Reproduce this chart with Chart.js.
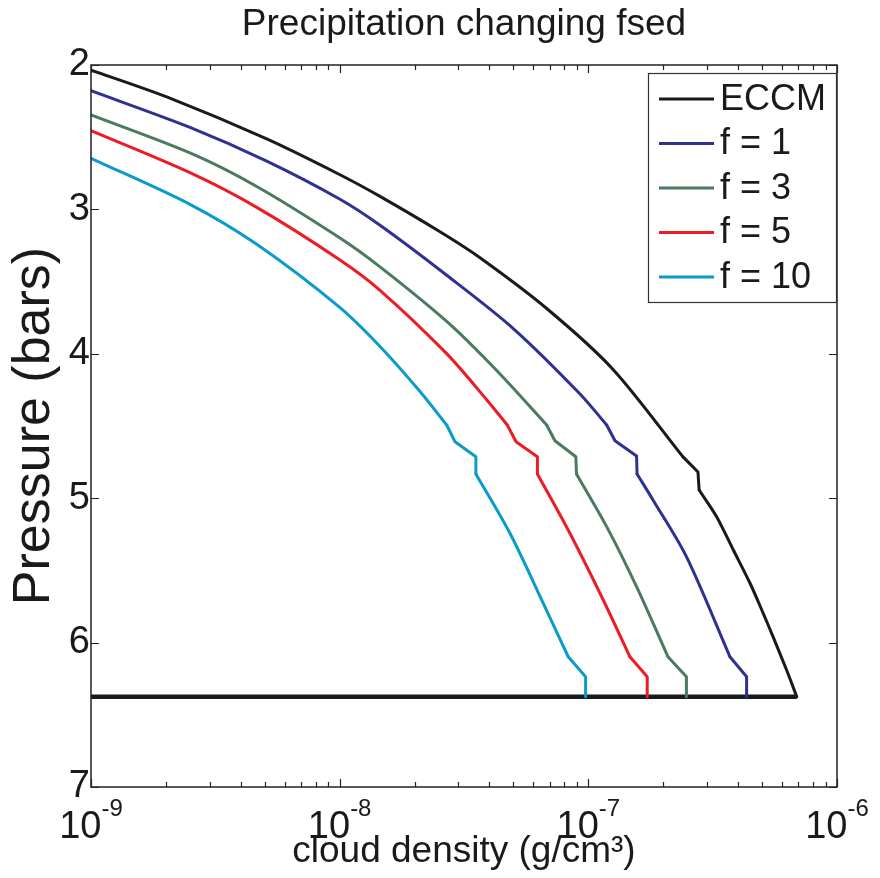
<!DOCTYPE html>
<html>
<head>
<meta charset="utf-8">
<script src="https://cdn.jsdelivr.net/npm/chart.js@4.4.1/dist/chart.umd.min.js"></script>
<style>
  html, body { margin: 0; padding: 0; background: #fff; }
  #wrap { width: 880px; height: 878px; }
</style>
</head>
<body>
<div id="wrap"><canvas id="cloudChart" width="880" height="878"></canvas></div>
<script>
// values: density in g/cm^3, pressure in bars
const eccmDensity = [1.0e-9, 2.016e-9, 5.09e-9, 1.003e-8, 1.453e-8, 2.532e-8, 3.667e-8, 6.82e-8, 1.257e-7, 2.403e-7, 2.76e-7, 2.79e-7, 3.28e-7, 3.83e-7, 4.47e-7, 5.05e-7, 5.53e-7, 6.27e-7, 6.89e-7];
const eccmPressure = [2.035, 2.221, 2.512, 2.76, 2.91, 3.155, 3.335, 3.688, 4.108, 4.714, 4.819, 4.943, 5.128, 5.359, 5.589, 5.797, 5.959, 6.19, 6.375];

const f1Density = [1.0e-9, 2.501e-9, 5.09e-9, 1.003e-8, 1.453e-8, 2.694e-8, 4.99e-8, 9.26e-8, 1.185e-7, 1.28e-7, 1.563e-7, 1.57e-7, 1.82e-7, 2.48e-7, 3.71e-7, 4.33e-7, 4.33e-7];
const f1Pressure = [2.178, 2.432, 2.666, 2.93, 3.11, 3.456, 3.825, 4.278, 4.493, 4.602, 4.708, 4.832, 5.012, 5.405, 6.098, 6.236, 6.375];

const f3Density = [1.0e-9, 2.5e-9, 4.64e-9, 1.003e-8, 1.453e-8, 2.694e-8, 4.28e-8, 6.8e-8, 7.34e-8, 8.91e-8, 8.96e-8, 1.185e-7, 1.563e-7, 2.09e-7, 2.48e-7, 2.48e-7];
const f3Pressure = [2.346, 2.609, 2.841, 3.198, 3.398, 3.776, 4.116, 4.493, 4.602, 4.713, 4.832, 5.197, 5.613, 6.098, 6.236, 6.375];

const f5Density = [1.0e-9, 2.5e-9, 4.64e-9, 1.003e-8, 1.453e-8, 2.694e-8, 3.9e-8, 4.72e-8, 5.12e-8, 6.24e-8, 6.24e-8, 8.43e-8, 1.148e-7, 1.469e-7, 1.725e-7, 1.725e-7];
const f5Pressure = [2.455, 2.746, 2.986, 3.35, 3.56, 3.999, 4.318, 4.493, 4.609, 4.713, 4.832, 5.243, 5.705, 6.098, 6.236, 6.375];

const f10Density = [1.0e-9, 2.5e-9, 4.64e-9, 1.003e-8, 1.453e-8, 2.1e-8, 2.694e-8, 2.91e-8, 3.53e-8, 3.53e-8, 4.84e-8, 6.59e-8, 8.3e-8, 9.75e-8, 9.75e-8];
const f10Pressure = [2.646, 2.965, 3.242, 3.68, 3.949, 4.259, 4.493, 4.609, 4.713, 4.832, 5.243, 5.728, 6.098, 6.236, 6.375];

// cloud base, drawn as a heavy horizontal line
const cloudBaseDensity = [1.0e-9, 6.89e-7];
const cloudBasePressure = [6.375, 6.375];

const seriesLabels = ["ECCM", "f = 1", "f = 3", "f = 5", "f = 10"];
const seriesColors = ["#1a1a1a", "#2e3192", "#4a7a5f", "#ed1c24", "#0a9bcb"];
// pressures bounding the smooth stretches of each curve (the kinks are straight)
const smoothUpperEnd = [4.714, 4.493, 4.493, 4.493, 4.493];
const smoothLowerStart = [4.943, 4.832, 4.832, 4.832, 4.832];
const smoothLowerEnd = [6.375, 6.098, 6.098, 6.098, 6.098];
const yTickValues = [2, 3, 4, 5, 6, 7];
const xTickExponents = [-9, -8, -7, -6];

const FONT = "'Liberation Sans', Arial, Helvetica, sans-serif";

function toPoints(xs, ys) {
  return xs.map((x, i) => ({ x: x, y: ys[i] }));
}

function piece(pts, pLo, pHi, smooth, color) {
  return {
    data: pts.filter((p) => p.y >= pLo - 1e-9 && p.y <= pHi + 1e-9),
    borderColor: color,
    borderWidth: 3,
    borderCapStyle: "round",
    borderJoinStyle: "round",
    pointRadius: 0,
    fill: false,
    indexAxis: "y",
    tension: smooth ? 0.3 : 0,
  };
}

const densities = [eccmDensity, f1Density, f3Density, f5Density, f10Density];
const pressures = [eccmPressure, f1Pressure, f3Pressure, f5Pressure, f10Pressure];

const datasets = [];
seriesLabels.forEach((lab, i) => {
  const ys = pressures[i];
  const pts = toPoints(densities[i], ys);
  const last = ys[ys.length - 1];
  datasets.push(piece(pts, ys[0], smoothUpperEnd[i], true, seriesColors[i]));
  datasets.push(piece(pts, smoothUpperEnd[i], smoothLowerStart[i], false, seriesColors[i]));
  datasets.push(piece(pts, smoothLowerStart[i], smoothLowerEnd[i], true, seriesColors[i]));
  if (smoothLowerEnd[i] < last) {
    datasets.push(piece(pts, smoothLowerEnd[i], last, false, seriesColors[i]));
  }
});

datasets.push({
  data: toPoints(cloudBaseDensity, cloudBasePressure),
  borderColor: "#1a1a1a",
  borderWidth: 4.5,
  pointRadius: 0,
  fill: false,
  indexAxis: "x",
});

// box, inward ticks, x tick labels with exponents, legend
const frameAndLegend = {
  id: "frameAndLegend",
  afterDatasetsDraw(chart) {
    const { ctx, chartArea: a, scales } = chart;
    const xs = scales.x;
    const ys = scales.y;
    ctx.save();

    ctx.strokeStyle = "#222";
    ctx.lineWidth = 1.5;
    ctx.strokeRect(a.left, a.top, a.right - a.left, a.bottom - a.top);

    ctx.lineWidth = 1.2;
    ctx.beginPath();
    xTickExponents.forEach((e, k) => {
      for (let m = 1; m <= 9; m++) {
        if (m > 1 && k === xTickExponents.length - 1) break;
        const px = Math.round(xs.getPixelForValue(m * Math.pow(10, e))) + 0.5;
        const len = m === 1 ? 8 : 5;
        ctx.moveTo(px, a.bottom);
        ctx.lineTo(px, a.bottom - len);
        ctx.moveTo(px, a.top);
        ctx.lineTo(px, a.top + len);
      }
    });
    yTickValues.forEach((v) => {
      const py = Math.round(ys.getPixelForValue(v)) + 0.5;
      ctx.moveTo(a.left, py);
      ctx.lineTo(a.left + 8, py);
      ctx.moveTo(a.right, py);
      ctx.lineTo(a.right - 8, py);
    });
    ctx.stroke();

    // x tick labels: 10 with a raised exponent
    ctx.fillStyle = "#1a1a1a";
    ctx.textBaseline = "alphabetic";
    ctx.textAlign = "left";
    xTickExponents.forEach((e) => {
      const px = xs.getPixelForValue(Math.pow(10, e));
      ctx.font = "38px " + FONT;
      const wBase = ctx.measureText("10").width;
      ctx.font = "24px " + FONT;
      const wExp = ctx.measureText(String(e)).width;
      const x0 = px - (wBase + wExp) / 2;
      ctx.font = "38px " + FONT;
      ctx.fillText("10", x0, a.bottom + 51);
      ctx.font = "24px " + FONT;
      ctx.fillText(String(e), x0 + wBase, a.bottom + 29);
    });

    // legend
    const boxW = 188, boxH = 229;
    const bx = a.right - boxW - 1;
    const by = a.top + 8;
    ctx.fillStyle = "#fff";
    ctx.fillRect(bx, by, boxW, boxH);
    ctx.strokeStyle = "#333";
    ctx.lineWidth = 1.2;
    ctx.strokeRect(bx + 0.5, by + 0.5, boxW, boxH);
    ctx.font = "36px " + FONT;
    ctx.textBaseline = "middle";
    seriesLabels.forEach((lab, i) => {
      const ry = by + 26 + i * 44.5;
      ctx.strokeStyle = seriesColors[i];
      ctx.lineWidth = 3;
      ctx.beginPath();
      ctx.moveTo(bx + 11, ry);
      ctx.lineTo(bx + 66, ry);
      ctx.stroke();
      ctx.fillStyle = "#1a1a1a";
      ctx.fillText(lab, bx + 72, ry + 1);
    });
    ctx.restore();
  },
};

new Chart(document.getElementById("cloudChart"), {
  type: "line",
  data: { datasets: datasets },
  options: {
    responsive: false,
    devicePixelRatio: 1,
    animation: false,
    layout: { padding: { left: 0, right: 43, top: 0, bottom: 0 } },
    plugins: {
      legend: { display: false },
      tooltip: { enabled: false },
      title: {
        display: true,
        fullSize: false,
        text: "Precipitation changing fsed",
        color: "#1a1a1a",
        font: { family: FONT, size: 37, weight: "normal" },
        padding: { top: 3, bottom: 17.6 },
      },
    },
    scales: {
      x: {
        type: "logarithmic",
        min: 1e-9,
        max: 1e-6,
        grid: { display: false, drawTicks: false },
        border: { display: false },
        ticks: { display: false },
        title: {
          display: true,
          text: "cloud density (g/cm³)",
          color: "#1a1a1a",
          font: { family: FONT, size: 37 },
          padding: { top: 0, bottom: 4 },
        },
        afterFit: (scale) => { scale.height = 91; },
      },
      y: {
        type: "linear",
        reverse: true,
        min: 2,
        max: 7,
        grid: { display: false, drawTicks: false },
        border: { display: false },
        afterBuildTicks: (scale) => {
          scale.ticks = yTickValues.map((v) => ({ value: v }));
        },
        ticks: {
          color: "#1a1a1a",
          padding: 1,
          font: { family: FONT, size: 38 },
        },
        title: {
          display: true,
          text: "Pressure (bars)",
          color: "#1a1a1a",
          font: { family: FONT, size: 52 },
          padding: { top: 3, bottom: 0 },
        },
        afterFit: (scale) => { scale.width = 91; },
      },
    },
  },
  plugins: [frameAndLegend],
});
</script>
</body>
</html>
